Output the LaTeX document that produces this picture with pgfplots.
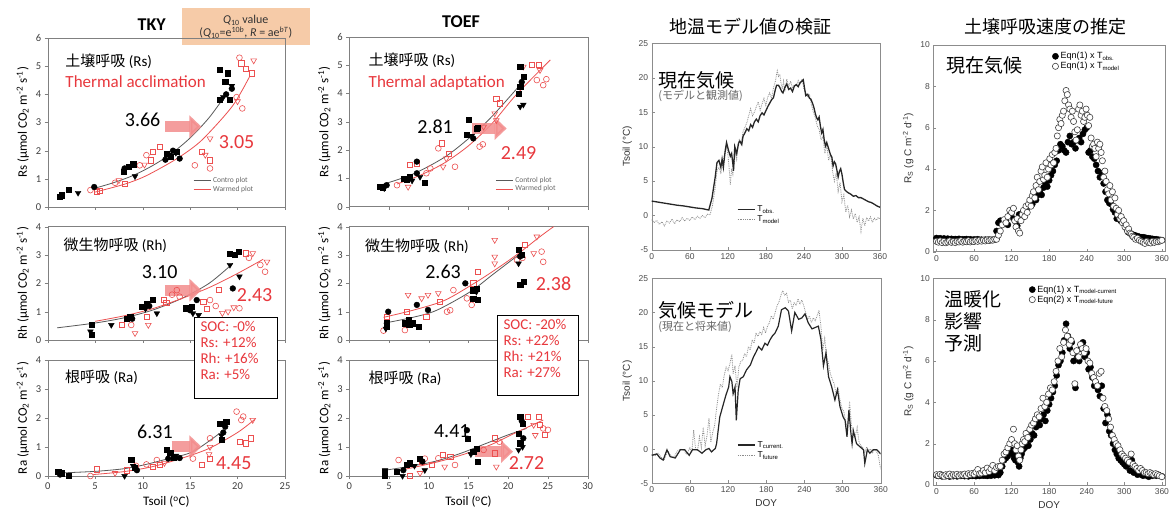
\documentclass[border=0pt]{standalone}
\usepackage{fontspec}
\setmainfont{Carlito}
\newfontfamily\arial{Liberation Sans}
\newfontfamily\cjk{Noto Sans CJK JP}
\usepackage{pgfplots}
\pgfplotsset{compat=1.18}
\usetikzlibrary{arrows.meta}
\definecolor{wred}{RGB}{232,56,61}
\definecolor{mred}{RGB}{236,80,80}
\definecolor{apink}{RGB}{243,140,140}
\definecolor{peach}{RGB}{246,203,168}
\newcommand{\fs}[1]{\fontsize{#1}{#1}\selectfont}
\pgfplotsset{
 every axis/.append style={scale only axis, anchor=south west, /pgf/number format/assume math mode=true},
 lp/.style={width=237.3pt, axis line style={black!50}, tick style={black!50}, tick align=outside,
   major tick length=3pt, xtick pos=bottom, ytick pos=left,
   ticklabel style={font=\fs{10.5}, text=black!75}, label style={font=\fs{13}}, clip=false},
 mp/.style={axis line style={black!45}, tick style={black!45}, tick align=inside, major tick length=3pt,
   xtick pos=bottom, ytick pos=left, xmin=0, xmax=360, xtick={0,60,...,360},
   ticklabel style={font=\arial\fs{8.5}, text=black!70}, label style={font=\arial\fs{10}, text=black!80}},
 rp/.style={mp, xmin=-5, xmax=365, ymin=0, ymax=10, ytick={0,2,...,10}, width=231.7pt, height=206.7pt},
 cs/.style={only marks, mark=square*, mark size=2.6pt, black, forget plot},
 cc/.style={only marks, mark=*, mark size=2.9pt, black, forget plot},
 ct/.style={only marks, mark=triangle*, mark size=3.3pt, mark options={rotate=180}, black, forget plot},
 ws/.style={only marks, mark=square, mark size=2.6pt, mred, mark options={line width=0.6pt}, forget plot},
 wc/.style={only marks, mark=o, mark size=2.9pt, mred, mark options={line width=0.6pt}, forget plot},
 wt/.style={only marks, mark=triangle, mark size=3.3pt, mred, mark options={rotate=180, line width=0.6pt}, forget plot},
 cfit/.style={smooth, black!65, line width=0.8pt},
 wfit/.style={smooth, mred, line width=0.8pt},
 bfill/.style={only marks, mark=*, mark size=3.1pt, mark options={draw=black, fill=black}},
 bopen/.style={only marks, mark=*, mark size=3.1pt, mark options={draw=black!75, fill=white, line width=0.6pt}},
}
\tikzset{arr/.style={line width=11pt, apink, opacity=0.85, -{Triangle[width=22pt,length=12pt]}}}
\begin{document}
\begin{tikzpicture}[x=1pt,y=1pt]
\useasboundingbox (0,0) rectangle (1173,520);
\fill[white] (0,0) rectangle (1173,520);
% Titles
\node[font=\bfseries\fs{18}] at (151.7,495) {TKY};
\node[font=\bfseries\fs{18}] at (461,498) {TOEF};
\fill[peach] (181.7,475) rectangle (310,511.7);
\node[align=center, font=\fs{12}, text=black!80] at (245.8,493.3) {\textit{Q}\textsubscript{10} value\\[1pt](\textit{Q}\textsubscript{10}=e\textsuperscript{10\textit{b}}, \textit{R} = ae\textsuperscript{\textit{bT}})};
\node[font=\cjk\fs{18}] at (750,493) {地温モデル値の検証};
\node[font=\cjk\fs{18}] at (1045,493) {土壌呼吸速度の推定};

% ===== TKY Rs =====
\begin{axis}[lp, at={(47.7pt,313pt)}, height=169pt, xmin=0, xmax=25, ymin=0, ymax=6, ytick={0,...,6}, xtick={0,5,...,25}, xticklabels=\empty,
  ylabel={Rs (µmol CO\textsubscript{2} m\textsuperscript{-2} s\textsuperscript{-1})},
  legend style={at={(0.6,0.2)}, anchor=north west, draw=none, fill=none, font=\fs{7.5}, text=black!60, row sep=-2pt}, legend cell align=left]
\addplot[cfit] coordinates {(4.9,0.66) (7,0.87) (9,1.12) (11,1.46) (13,1.89) (15,2.45) (17,3.17) (18.8,4.0)};
\addlegendentry{Contro plot}
\addplot[wfit] coordinates {(5,0.53) (8,0.8) (10,1.05) (12,1.4) (14,1.8) (16,2.3) (18,3.0) (19.5,3.6) (20.5,4.15) (21.3,4.65)};
\addlegendentry{Warmed plot}
\addplot[ws] coordinates {(5.2,0.53) (5.5,0.58) (8.1,0.83) (10.9,1.66) (11.1,1.96) (11.8,2.14) (16.2,1.96) (17.1,1.66) (20.4,5.1) (20.9,4.9) (21.5,4.75)};
\addplot[wc] coordinates {(4.5,0.6) (7.1,0.86) (9.7,1.48) (10.4,1.84) (15.5,1.48) (17.1,1.37) (19.9,3.9) (20.5,3.5) (20.2,5.3)};
\addplot[wt] coordinates {(7.5,0.95) (10.2,1.5) (16.6,1.85) (17.1,2.43) (21.7,5.2) (20.0,3.75)};
\addplot[cs] coordinates {(1.3,0.36) (1.5,0.42) (2.2,0.62) (8.0,1.25) (8.5,1.43) (9.0,1.52) (12.5,1.9) (13.0,1.78) (13.6,1.95) (18.1,4.87) (19.0,4.75) (18.7,4.45) (18.1,3.8) (19.2,3.8)};
\addplot[cc] coordinates {(4.9,0.71) (8.1,1.37) (12.4,1.68) (13.2,2.0) (13.9,1.72) (18.8,4.0) (19.4,4.2)};
\addplot[ct] coordinates {(3.2,0.5) (9.2,1.09) (12.8,1.85) (13.5,1.92) (19.4,4.3) (18.5,3.9)};
\draw[arr] (axis cs:12.4,2.85) -- (axis cs:16.2,2.85);
\node[anchor=west, font=\cjk\fs{15}] at (axis cs:1.5,5.16) {土壌呼吸 {\normalfont (Rs)}};
\node[anchor=west, font=\fs{17}, text=wred] at (axis cs:1.5,4.45) {Thermal acclimation};
\node[font=\fs{20}] at (axis cs:10.0,3.09) {3.66};
\node[font=\fs{20}, text=wred] at (axis cs:19.9,2.32) {3.05};
\end{axis}

% ===== TKY Rh =====
\begin{axis}[lp, at={(47.7pt,180pt)}, height=113.3pt, xmin=0, xmax=25, ymin=0, ymax=4, ytick={0,...,4}, xtick={0,5,...,25}, xticklabels=\empty,
  ylabel={Rh (µmol CO\textsubscript{2} m\textsuperscript{-2} s\textsuperscript{-1})}]
\addplot[cfit] coordinates {(1,0.43) (5,0.6) (8,0.78) (11,1.05) (14,1.45) (17,2.0) (19.5,2.7)};
\addplot[wfit] coordinates {(5,0.66) (8,0.85) (11,1.1) (14,1.45) (17,1.85) (20,2.35) (22.7,2.85)};
\addplot[ws] coordinates {(7.8,0.53) (10.4,0.82) (12.2,1.41) (12.5,1.3) (16.4,1.35) (18.0,1.76) (20.9,3.06) (16.8,1.1)};
\addplot[wc] coordinates {(8.8,0.53) (13.6,1.76) (13.1,1.6) (13.9,1.53) (17.1,1.41) (17.7,1.2) (20.2,1.12) (22.4,2.65) (22.9,2.41) (21.2,2.9)};
\addplot[wt] coordinates {(9.2,0.24) (10.6,0.53) (19.0,1.0) (21.6,3.06) (23.1,2.76) (18.4,0.95) (19.6,1.15)};
\addplot[cs] coordinates {(4.6,0.53) (4.6,0.18) (8.3,0.76) (8.7,0.82) (9.9,1.18) (10.4,1.29) (11.1,1.41) (14.5,1.12) (15.2,1.18) (19.2,3.06) (19.7,3.0) (20.1,3.12)};
\addplot[cc] coordinates {(8.9,0.75) (10.7,1.2) (15.7,1.41) (19.5,1.82) (15.0,1.05)};
\addplot[ct] coordinates {(4.5,0.3) (6.7,0.53) (11.5,0.94) (15.3,0.94) (15.9,0.88) (19.2,2.65) (20.2,2.24) (10.3,1.1)};
\draw[arr] (axis cs:12.35,1.76) -- (axis cs:16.2,1.76);
\node[anchor=west, font=\cjk\fs{15}] at (axis cs:1.3,3.35) {微生物呼吸 {\normalfont (Rh)}};
\node[font=\fs{20}] at (axis cs:11.8,2.41) {3.10};
\node[font=\fs{20}, text=wred] at (axis cs:21.8,1.59) {2.43};
\end{axis}

% ===== TKY Ra =====
\begin{axis}[lp, at={(47.7pt,44pt)}, height=116pt, xmin=0, xmax=25, ymin=0, ymax=4, ytick={0,...,4}, xtick={0,5,...,25},
  ylabel={Ra (µmol CO\textsubscript{2} m\textsuperscript{-2} s\textsuperscript{-1})}, xlabel={Tsoil (\textsuperscript{o}C)}]
\addplot[cfit] coordinates {(1,0.1) (5,0.16) (8,0.25) (10.1,0.38) (12.5,0.58) (15.3,0.84) (18.1,1.47)};
\addplot[wfit] coordinates {(4.8,0.05) (8,0.15) (11,0.32) (14,0.6) (17,0.95) (20,1.5) (21.8,1.95)};
\addplot[ws] coordinates {(5.2,0.23) (8.3,0.2) (11.1,0.32) (11.8,0.4) (16.2,0.38) (17.1,0.6) (20.2,1.18) (20.9,1.13) (21.4,1.3)};
\addplot[wc] coordinates {(4.5,0.0) (10.4,0.4) (11.5,0.55) (9.3,0.35) (15.3,0.6) (17.1,1.3) (19.9,2.22) (20.6,2.05) (20.4,1.93)};
\addplot[wt] coordinates {(7.1,0.1) (17.1,1.0) (17.0,0.75) (21.6,1.93) (12.3,0.45)};
\addplot[cs] coordinates {(1.1,0.15) (1.5,0.1) (2.2,0.0) (8.8,0.55) (9.2,0.3) (12.5,0.9) (12.9,0.8) (13.3,0.65) (18.1,1.8) (18.8,1.87) (18.3,1.24)};
\addplot[cc] coordinates {(1.3,0.05) (9.4,0.2) (12.7,0.6) (13.9,0.62) (18.5,1.5) (18.7,1.7)};
\addplot[ct] coordinates {(8.1,0.0) (9.0,0.35) (13.5,0.7) (18.3,1.4)};
\draw[arr] (axis cs:13.05,1.01) -- (axis cs:16.2,1.01);
\node[anchor=west, font=\cjk\fs{15}] at (axis cs:1.47,3.4) {根呼吸 {\normalfont (Ra)}};
\node[font=\fs{20}] at (axis cs:11.3,1.53) {6.31};
\node[font=\fs{20}, text=wred] at (axis cs:19.6,0.44) {4.45};
\end{axis}

% ===== TOEF Rs =====
\begin{axis}[lp, at={(349.3pt,313.3pt)}, width=238.4pt, height=170pt, xmin=0, xmax=30, ymin=0, ymax=6, ytick={0,...,6}, xtick={0,5,...,30}, xticklabels=\empty,
  ylabel={Rs (µmol CO\textsubscript{2} m\textsuperscript{-2} s\textsuperscript{-1})},
  legend style={at={(0.6,0.2)}, anchor=north west, draw=none, fill=none, font=\fs{7.5}, text=black!60, row sep=-2pt}, legend cell align=left]
\addplot[cfit] coordinates {(3.9,0.76) (8,1.15) (12,1.75) (15.2,2.45) (18,3.2) (21.5,4.3)};
\addlegendentry{Control plot}
\addplot[wfit] coordinates {(6,0.8) (9,1.12) (12,1.55) (15,2.15) (18,2.95) (21,3.95) (25.3,5.18)};
\addlegendentry{Warmed plot}
\addplot[ws] coordinates {(7.6,1.47) (8.5,1.53) (11.6,2.24) (12.5,1.88) (18.5,3.82) (18.9,3.65) (23.0,5.0) (23.8,5.0)};
\addplot[wc] coordinates {(6.0,0.76) (9.7,1.18) (10.2,1.35) (11.2,2.06) (13.3,1.41) (16.4,2.12) (16.8,2.2) (23.6,4.47) (24.4,4.29) (24.8,4.5)};
\addplot[wt] coordinates {(7.4,0.7) (11.8,1.41) (12.2,1.7) (16.9,2.82) (18.3,3.29) (21.9,4.94) (24.0,4.82) (18.5,3.05)};
\addplot[cs] coordinates {(3.9,0.71) (4.2,0.68) (6.8,1.0) (7.2,0.95) (7.6,1.06) (9.5,0.85) (15.0,3.06) (14.8,2.53) (16.0,2.76) (16.2,2.8) (21.5,4.94) (21.9,4.59) (21.5,4.24) (21.3,4.0)};
\addplot[cc] coordinates {(4.7,0.76) (8.5,1.59) (8.5,1.18) (15.6,2.41) (21.7,4.4)};
\addplot[ct] coordinates {(4.4,0.65) (7.9,0.92) (8.9,1.05) (21.5,3.53) (21.9,3.6) (15.4,2.5)};
\draw[arr] (axis cs:15.4,2.76) -- (axis cs:19.8,2.76);
\node[anchor=west, font=\cjk\fs{15}] at (axis cs:2.0,5.18) {土壌呼吸 {\normalfont (Rs)}};
\node[anchor=west, font=\fs{17}, text=wred] at (axis cs:2.0,4.36) {Thermal adaptation};
\node[font=\fs{20}] at (axis cs:10.8,2.82) {2.81};
\node[font=\fs{20}, text=wred] at (axis cs:21.3,1.88) {2.49};
\end{axis}

% ===== TOEF Rh =====
\begin{axis}[lp, at={(349.3pt,180pt)}, width=238.4pt, height=113.3pt, xmin=0, xmax=30, ymin=0, ymax=4, ytick={0,...,4}, xtick={0,5,...,30}, xticklabels=\empty,
  ylabel={Rh (µmol CO\textsubscript{2} m\textsuperscript{-2} s\textsuperscript{-1})}]
\addplot[cfit] coordinates {(4.3,0.59) (8,0.8) (11,1.05) (15.2,1.7) (18,2.3) (21.5,3.05)};
\addplot[wfit] coordinates {(4.3,0.8) (8,1.05) (12,1.4) (16,2.05) (19,2.6) (21.5,3.1) (24,3.65) (25.7,4.0)};
\addplot[ws] coordinates {(4.7,0.82) (7.2,1.0) (9.7,0.82) (11.4,1.35) (15.6,2.0) (16.2,2.41) (22.1,3.35)};
\addplot[wc] coordinates {(4.3,0.33) (7.0,0.35) (12.3,1.0) (12.7,1.05) (13.1,1.76) (14.8,1.47) (15.4,1.24) (21.1,2.82) (24.2,3.12) (24.4,2.76) (21.8,2.9)};
\addplot[wt] coordinates {(7.4,1.59) (9.1,1.47) (9.9,1.59) (11.2,1.65) (18.3,3.53) (18.3,2.94) (18.3,2.7) (23.6,3.65) (23.2,3.06)};
\addplot[cs] coordinates {(4.7,0.47) (4.7,0.6) (7.0,0.59) (7.6,0.55) (8.0,0.59) (8.7,0.47) (7.5,0.7) (15.6,1.76) (16.0,1.8) (16.2,1.41) (15.6,1.45) (21.3,3.18) (21.5,1.94) (21.9,2.06) (21.7,3.0)};
\addplot[cc] coordinates {(4.9,1.0) (8.5,1.24) (9.9,1.06) (14.6,2.0) (21.5,2.95)};
\addplot[ct] coordinates {(7.2,0.55) (16.0,1.7) (21.3,2.7) (4.6,0.4)};
\node[anchor=west, font=\cjk\fs{15}] at (axis cs:1.56,3.3) {微生物呼吸 {\normalfont (Rh)}};
\node[font=\fs{20}] at (axis cs:11.8,2.41) {2.63};
\node[font=\fs{20}, text=wred] at (axis cs:25.7,2.0) {2.38};
\end{axis}

% ===== TOEF Ra =====
\begin{axis}[lp, at={(349.3pt,44pt)}, width=238.4pt, height=116pt, xmin=0, xmax=30, ymin=0, ymax=4, ytick={0,...,4}, xtick={0,5,...,30},
  ylabel={Ra (µmol CO\textsubscript{2} m\textsuperscript{-2} s\textsuperscript{-1})}, xlabel={Tsoil (\textsuperscript{o}C)}]
\addplot[cfit] coordinates {(4.5,0.2) (8,0.35) (11,0.52) (14,0.78) (17,1.1) (20,1.42) (22.3,1.64)};
\addplot[wfit] coordinates {(6.4,0.2) (9,0.35) (12,0.55) (15,0.8) (18,1.1) (21,1.5) (24.4,1.93)};
\addplot[ws] coordinates {(7.6,0.0) (9.1,0.5) (10.4,0.38) (11.8,0.72) (12.7,0.67) (18.3,1.3) (18.3,0.78) (22.5,2.05) (23.8,2.05) (24.0,1.76) (24.6,1.41)};
\addplot[wc] coordinates {(6.2,0.55) (9.5,0.6) (11.2,0.61) (13.3,0.38) (16.9,0.9) (18.9,1.18) (25.0,1.59) (24.4,1.64)};
\addplot[wt] coordinates {(8.9,0.1) (12.0,0.32) (18.5,0.32) (23.2,1.76) (23.4,1.41)};
\addplot[cs] coordinates {(4.5,0.0) (4.5,0.15) (6.0,0.15) (7.2,0.38) (7.6,0.44) (8.9,0.6) (14.9,1.3) (15.6,0.84) (16.0,0.95) (16.2,0.5) (21.5,2.05) (21.3,1.47) (21.5,1.13) (21.8,1.8)};
\addplot[cc] coordinates {(6.8,0.2) (9.2,0.5) (14.8,1.58) (21.7,1.9) (21.9,1.3)};
\addplot[ct] coordinates {(4.5,0.2) (6.7,0.0) (9.5,0.2) (8.2,0.35) (15.3,0.75) (21.3,0.9) (21.8,1.0)};
\draw[arr] (axis cs:15.8,0.84) -- (axis cs:20.6,0.84);
\node[anchor=west, font=\cjk\fs{15}] at (axis cs:2.0,3.37) {根呼吸 {\normalfont (Ra)}};
\node[font=\fs{20}] at (axis cs:12.9,1.53) {4.41};
\node[font=\fs{20}, text=wred] at (axis cs:22.3,0.44) {2.72};
\end{axis}

% Boxes
\draw[line width=0.8pt, fill=white] (194,122) rectangle (277,203);
\node[anchor=north west, align=left, text=wred, font=\fs{15}] at (197,202) {SOC: -0\%\\[1pt]Rs: +12\%\\[1pt]Rh: +16\%\\[1pt]Ra: +5\%};
\draw[line width=0.8pt, fill=white] (497,125) rectangle (578,205);
\node[anchor=north west, align=left, text=wred, font=\fs{15}] at (500,204) {SOC: -20\%\\[1pt]Rs: +22\%\\[1pt]Rh: +21\%\\[1pt]Ra: +27\%};

% ===== Middle top =====
\begin{axis}[mp, at={(651.7pt,270pt)}, width=228.3pt, height=206.7pt, ymin=-5, ymax=25, ytick={-5,0,...,25},
  ylabel={Tsoil (°C)}, reverse legend,
  legend style={at={(0.36,0.235)}, anchor=north west, draw=none, fill=none, font=\arial\fs{8.5}, row sep=-1pt}, legend cell align=left]
\addplot[densely dotted, black!45, line width=0.8pt] coordinates {(0,-0.6) (4,-1.0) (8,-0.7) (12,-1.3) (16,-0.9) (20,-1.5) (24,-0.8) (28,-1.1) (32,-0.5) (36,-1.2) (40,-0.6) (44,-0.9) (48,-0.3) (52,-0.8) (56,-0.4) (60,-0.7) (64,-0.2) (68,-0.6) (72,-0.1) (76,-0.4) (80,0.0) (84,-0.3) (88,0.2) (92,0.1) (96,1.5) (100,4.0) (103,6.5) (106,7.0) (109,6.2) (112,7.5) (115,8.8) (118,10.0) (120,9.0) (122,7.0) (124,4.5) (126,6.8) (128,6.0) (130,7.5) (132,9.2) (134,8.2) (136,10.3) (138,11.0) (141,10.5) (144,12.2) (147,12.8) (150,13.5) (153,14.5) (156,15.5) (159,14.5) (162,15.0) (165,15.8) (168,16.5) (171,15.3) (174,16.2) (177,17.0) (180,16.0) (183,17.2) (186,17.8) (189,17.0) (192,18.5) (195,19.5) (198,21.0) (200,20.2) (202,20.5) (204,19.2) (206,18.4) (208,19.5) (210,18.0) (213,19.8) (216,18.7) (219,19.5) (222,18.5) (225,19.0) (228,18.8) (231,19.6) (234,19.0) (237,19.8) (240,18.4) (243,17.8) (246,17.2) (249,17.5) (252,16.0) (255,15.0) (258,14.2) (261,13.0) (264,12.5) (267,11.0) (270,11.5) (273,9.0) (276,10.2) (279,8.0) (282,9.0) (285,6.5) (288,5.0) (291,6.2) (294,3.5) (297,4.8) (300,2.0) (303,3.0) (306,0.5) (309,1.5) (312,-0.2) (315,0.8) (318,-0.5) (321,0.3) (324,-1.0) (327,-0.2) (330,-2.3) (333,-0.4) (336,-1.5) (339,-0.3) (342,-0.8) (345,-0.2) (348,-1.0) (351,-0.4) (354,-0.7) (357,-0.3) (360,-0.5)};
\addlegendentry{T\textsubscript{model}}
\addplot[black!85, line width=1.3pt] coordinates {(0,2.1) (10,1.95) (20,1.8) (30,1.65) (40,1.5) (50,1.4) (60,1.25) (70,1.1) (80,1.0) (90,0.8) (95,2.5) (100,5.5) (103,7.7) (106,8.0) (109,7.0) (111,8.2) (113,7.0) (116,9.5) (118,10.6) (121,9.5) (124,8.6) (126,9.0) (128,7.5) (129,6.5) (131,10.0) (134,9.0) (137,10.5) (139,10.8) (142,10.3) (144,11.5) (147,12.0) (150,12.6) (153,12.3) (156,13.2) (159,12.8) (162,13.6) (165,14.0) (168,13.6) (171,14.5) (174,14.9) (177,14.6) (180,15.2) (183,15.8) (186,16.3) (189,16.8) (192,17.1) (195,18.3) (197,18.9) (200,18.9) (202,18.6) (205,18.0) (207,17.8) (210,18.6) (213,19.1) (216,18.3) (219,18.5) (222,18.0) (225,18.8) (228,19.0) (231,18.7) (234,19.3) (237,19.5) (239,19.7) (241,18.5) (243,17.4) (246,17.6) (249,17.0) (251,16.9) (254,16.2) (256,15.6) (258,14.8) (260,14.2) (262,13.9) (264,14.3) (266,13.0) (268,12.0) (270,12.5) (272,11.0) (274,10.1) (276,10.6) (278,10.0) (280,9.4) (282,8.8) (284,8.5) (286,7.2) (288,7.8) (290,7.5) (292,6.6) (294,5.6) (296,6.4) (298,6.8) (300,6.0) (302,4.8) (304,3.8) (307,3.5) (310,3.3) (314,3.1) (318,2.8) (322,2.9) (326,2.6) (330,2.6) (334,2.4) (338,2.2) (342,2.0) (346,1.9) (350,1.7) (355,1.4) (360,1.2)};
\addlegendentry{T\textsubscript{obs.}}
\node[anchor=west, font=\cjk\fs{19}] at (axis cs:5,19.6) {現在気候};
\node[anchor=west, font=\cjk\fs{11}, text=black!60] at (axis cs:5,17.3) {(モデルと観測値)};
\end{axis}

% ===== Middle bottom =====
\begin{axis}[mp, at={(651.7pt,36.7pt)}, width=229pt, height=205pt, ymin=-5, ymax=25, ytick={-5,0,...,25},
  ylabel={Tsoil (°C)}, xlabel={DOY}, reverse legend,
  legend style={at={(0.36,0.225)}, anchor=north west, draw=none, fill=none, font=\arial\fs{8.5}, row sep=-1pt}, legend cell align=left]
\addplot[densely dotted, black!45, line width=0.8pt] coordinates {(0,-0.8) (5,-1.0) (10,-0.6) (15,-1.2) (20,-1.5) (25,-0.2) (30,-1.0) (35,-1.2) (40,-0.3) (45,0.0) (50,-0.1) (55,-0.8) (60,0.2) (63,-0.5) (66,2.8) (69,0.0) (72,-0.2) (75,1.8) (78,0.2) (81,3.2) (84,0.5) (87,2.0) (90,4.5) (93,1.0) (96,2.5) (99,3.5) (102,6.0) (105,8.0) (108,9.5) (111,9.0) (114,10.8) (117,12.0) (120,11.5) (123,12.5) (126,13.9) (128,11.0) (131,12.2) (134,9.0) (137,12.0) (140,12.8) (143,13.0) (146,14.0) (149,13.5) (152,15.0) (155,14.5) (158,16.0) (161,15.5) (164,17.0) (167,16.5) (170,17.2) (173,16.8) (176,17.8) (179,17.0) (182,18.0) (185,18.5) (188,19.5) (191,19.0) (194,20.0) (197,21.0) (200,21.5) (203,22.5) (206,23.2) (209,22.5) (212,22.8) (215,21.5) (218,21.8) (221,20.5) (224,21.5) (227,21.0) (230,22.0) (233,21.2) (236,21.8) (239,21.0) (242,20.0) (245,19.0) (248,19.5) (251,18.5) (254,19.2) (257,18.8) (260,19.5) (263,20.3) (266,18.0) (269,14.5) (272,16.2) (275,13.5) (278,12.5) (281,11.0) (284,10.2) (287,9.5) (290,8.0) (293,9.0) (296,7.2) (299,6.0) (302,5.5) (305,4.0) (308,3.0) (311,7.0) (314,3.5) (317,2.5) (320,1.8) (323,3.2) (326,1.0) (329,0.5) (332,0.2) (335,-0.5) (338,0.3) (341,-0.2) (344,0.0) (347,-0.6) (350,0.0) (353,-0.3) (356,-0.8) (360,-3.0)};
\addlegendentry{T\textsubscript{future}}
\addplot[black!85, line width=1.2pt] coordinates {(0,-0.9) (8,-0.7) (13,-1.3) (18,-1.6) (24,-0.1) (29,-1.1) (37,-1.3) (45,-0.1) (52,-0.1) (59,-0.9) (64,-0.1) (72,-0.1) (79,-0.6) (85,-0.1) (90,0.1) (94,-0.4) (100,0.1) (102,0.8) (107,4.7) (113,6.7) (117,8.0) (121,9.1) (123,10.6) (126,9.9) (128,8.1) (131,9.1) (133,4.2) (136,8.6) (139,10.3) (144,10.6) (149,11.6) (155,12.3) (160,13.5) (164,14.2) (168,15.0) (173,14.5) (178,15.5) (182,15.2) (186,16.0) (190,16.6) (194,17.0) (199,18.0) (204,20.4) (210,20.7) (215,20.2) (220,17.3) (225,20.0) (231,19.0) (236,19.2) (241,19.8) (246,18.5) (252,17.6) (257,17.8) (262,18.0) (266,16.1) (270,12.2) (274,14.1) (278,10.6) (283,9.1) (288,7.2) (292,8.7) (296,6.2) (301,4.7) (304,4.2) (307,1.8) (310,5.7) (313,2.5) (315,0.8) (317,2.7) (322,0.8) (328,0.3) (333,-0.1) (335,-2.1) (339,-0.1) (343,-0.6) (348,-0.1) (354,-0.1) (360,-0.7)};
\addlegendentry{T\textsubscript{current.}}
\node[anchor=west, font=\cjk\fs{19}] at (axis cs:5,20.3) {気候モデル};
\node[anchor=west, font=\cjk\fs{11}, text=black!60] at (axis cs:5,17.9) {(現在と将来値)};
\end{axis}

% ===== Right top =====
\begin{axis}[rp, at={(933.3pt,268.3pt)}, ylabel={R\textsubscript{S} (g C m\textsuperscript{-2} d\textsuperscript{-1})},
  legend style={at={(0.5,0.985)}, anchor=north west, draw=none, fill=none, font=\arial\fs{9}, row sep=-2pt}, legend cell align=left]
\addplot[bfill] coordinates {(0,0.66) (3,0.62) (6,0.65) (9,0.6) (12,0.64) (15,0.61) (18,0.63) (21,0.6) (24,0.62) (27,0.59) (30,0.61) (33,0.6) (36,0.62) (39,0.58) (42,0.6) (45,0.59) (48,0.61) (51,0.58) (54,0.6) (57,0.57) (60,0.59) (63,0.58) (66,0.6) (69,0.57) (72,0.58) (75,0.56) (78,0.58) (81,0.57) (84,0.58) (87,0.56) (90,0.57) (93,0.58) (96,1.0) (99,1.4) (102,1.5) (105,1.45) (108,1.4) (111,1.5) (114,1.3) (117,1.75) (120,1.9) (123,1.6) (126,1.5) (129,1.25) (132,1.8) (135,1.65) (138,1.9) (141,1.85) (144,2.1) (147,2.2) (150,2.4) (153,2.3) (156,2.6) (159,2.5) (162,2.75) (165,2.9) (168,2.75) (171,3.1) (174,3.3) (177,3.15) (180,3.45) (183,3.7) (186,3.9) (189,4.2) (192,4.4) (195,4.9) (198,5.2) (201,5.1) (204,4.9) (207,4.8) (210,5.3) (213,5.6) (216,5.2) (219,5.3) (222,5.0) (225,5.4) (228,5.5) (231,5.3) (234,5.7) (237,5.9) (240,6.0) (243,4.8) (246,4.9) (249,4.6) (252,4.5) (255,4.2) (258,3.9) (261,3.6) (264,3.8) (267,3.3) (270,2.9) (273,2.5) (276,2.35) (279,2.3) (282,2.05) (285,1.9) (288,1.6) (291,1.75) (294,1.5) (297,1.55) (300,1.35) (303,1.15) (306,0.95) (309,0.9) (312,0.85) (315,0.8) (318,0.78) (321,0.75) (324,0.72) (327,0.7) (330,0.7) (333,0.68) (336,0.66) (339,0.65) (342,0.63) (345,0.62) (348,0.6) (351,0.6) (354,0.58) (357,0.57) (360,0.56)};
\addlegendentry{Eqn(1) x T\textsubscript{obs.}}
\addplot[bopen] coordinates {(0,0.5) (3,0.46) (6,0.52) (9,0.44) (12,0.5) (15,0.43) (18,0.47) (21,0.52) (24,0.45) (27,0.49) (30,0.44) (33,0.5) (36,0.47) (39,0.53) (42,0.46) (45,0.5) (48,0.48) (51,0.53) (54,0.47) (57,0.51) (60,0.49) (63,0.54) (66,0.5) (69,0.55) (72,0.51) (75,0.56) (78,0.52) (81,0.57) (84,0.54) (87,0.58) (90,0.56) (93,0.6) (96,0.6) (99,0.8) (102,1.0) (105,1.3) (108,1.55) (111,1.4) (114,1.7) (117,2.0) (120,1.9) (123,2.1) (125,1.5) (127,1.2) (129,1.6) (131,1.0) (133,0.9) (135,1.5) (137,1.8) (139,2.0) (141,1.7) (143,2.2) (145,1.9) (147,2.3) (149,2.5) (151,2.2) (153,2.7) (155,2.9) (157,2.6) (159,3.2) (161,3.6) (163,3.0) (165,3.4) (167,3.9) (169,4.1) (171,3.5) (173,3.7) (175,4.3) (177,3.6) (179,4.0) (181,4.5) (183,4.2) (185,4.7) (187,4.3) (189,4.8) (191,5.0) (193,5.6) (195,6.0) (197,6.4) (199,6.2) (201,6.6) (203,6.8) (205,7.3) (207,7.8) (209,7.6) (211,7.1) (213,6.9) (215,6.5) (217,6.8) (219,6.3) (221,5.8) (223,5.4) (225,5.9) (227,6.9) (229,7.1) (231,6.6) (233,6.8) (235,6.3) (237,6.5) (239,6.9) (241,6.6) (243,6.1) (245,6.5) (247,5.5) (249,5.1) (251,5.2) (253,5.0) (255,4.6) (257,5.3) (259,5.0) (261,5.2) (263,4.8) (265,4.4) (267,3.6) (269,3.9) (271,3.4) (273,3.0) (275,2.8) (277,3.2) (279,2.5) (281,2.9) (283,2.2) (285,2.6) (287,2.1) (289,1.8) (291,2.0) (293,1.6) (295,1.7) (297,1.4) (299,1.5) (301,1.2) (303,1.3) (305,1.0) (307,1.1) (309,0.9) (311,0.85) (313,0.75) (315,0.7) (318,0.6) (321,0.65) (324,0.55) (327,0.5) (330,0.45) (333,0.4) (336,0.5) (339,0.45) (342,0.42) (345,0.5) (348,0.45) (351,0.5) (354,0.48) (357,0.52) (360,0.55)};
\addlegendentry{Eqn(1) x T\textsubscript{model}}
\node[anchor=west, font=\cjk\fs{19}] at (axis cs:10,9.0) {現在気候};
\end{axis}

% ===== Right bottom =====
\begin{axis}[rp, at={(933.3pt,35pt)}, ylabel={R\textsubscript{S} (g C m\textsuperscript{-2} d\textsuperscript{-1})}, xlabel={DOY},
  legend style={at={(0.4,0.985)}, anchor=north west, draw=none, fill=none, font=\arial\fs{9}, row sep=-2pt}, legend cell align=left]
\addplot[bfill] coordinates {(0,0.47) (3,0.44) (6,0.5) (9,0.42) (12,0.46) (15,0.43) (18,0.48) (21,0.41) (24,0.45) (27,0.43) (30,0.47) (33,0.42) (36,0.46) (39,0.44) (42,0.48) (45,0.43) (48,0.45) (51,0.42) (54,0.47) (57,0.44) (60,0.46) (63,0.43) (66,0.47) (69,0.44) (72,0.48) (75,0.45) (78,0.47) (81,0.44) (84,0.48) (87,0.45) (90,0.5) (93,0.47) (96,0.5) (99,0.48) (102,0.6) (105,0.9) (108,1.2) (111,1.3) (114,1.4) (117,1.6) (120,1.7) (122,1.5) (124,1.3) (126,1.2) (128,1.4) (130,1.1) (132,0.9) (134,1.3) (136,1.5) (138,1.7) (141,1.8) (144,2.0) (147,1.9) (150,2.2) (153,2.5) (156,2.4) (159,2.8) (162,3.0) (165,2.9) (168,3.2) (171,3.4) (174,3.1) (177,3.6) (180,3.9) (183,4.2) (186,4.5) (189,4.8) (192,5.3) (195,5.8) (198,6.0) (201,6.4) (204,7.0) (207,7.8) (210,7.2) (213,6.6) (216,6.9) (219,6.0) (222,4.7) (225,6.2) (228,6.0) (231,6.6) (234,6.9) (237,6.2) (240,6.4) (243,5.6) (246,5.7) (249,5.2) (252,4.8) (255,4.9) (258,4.6) (261,4.3) (264,4.8) (267,3.7) (270,3.0) (273,3.4) (276,2.6) (279,2.4) (282,2.0) (285,1.7) (288,1.5) (291,1.3) (294,1.2) (297,1.1) (300,1.0) (303,0.9) (306,1.0) (309,0.7) (312,1.2) (315,0.6) (318,0.7) (321,0.5) (324,0.55) (327,0.5) (330,0.45) (333,0.5) (336,0.45) (339,0.4) (342,0.5) (345,0.45) (348,0.5) (351,0.45) (354,0.5) (357,0.45) (360,0.42)};
\addlegendentry{Eqn(1) x T\textsubscript{model-current}}
\addplot[bopen] coordinates {(0,0.5) (3,0.45) (6,0.52) (9,0.47) (12,0.42) (15,0.5) (18,0.46) (21,0.53) (24,0.44) (27,0.5) (30,0.47) (33,0.52) (36,0.45) (39,0.5) (42,0.48) (45,0.53) (48,0.46) (51,0.55) (54,0.5) (57,0.56) (60,0.52) (63,0.62) (66,0.75) (69,0.55) (72,0.58) (75,0.7) (78,0.6) (81,0.82) (84,0.65) (87,0.78) (90,0.95) (93,0.7) (96,0.85) (99,0.9) (102,0.9) (105,1.2) (108,1.5) (111,1.6) (114,1.8) (117,2.0) (120,2.2) (123,2.7) (125,2.0) (127,1.7) (129,1.9) (131,1.4) (133,1.2) (135,1.7) (137,2.0) (139,2.2) (141,2.1) (143,2.5) (146,2.3) (149,2.7) (152,2.9) (155,3.0) (158,3.2) (161,3.4) (164,3.3) (167,3.7) (170,4.2) (173,3.8) (176,4.0) (179,4.4) (182,4.7) (185,4.6) (188,5.0) (191,5.5) (194,6.0) (197,6.6) (200,6.2) (203,6.9) (206,7.5) (209,7.2) (212,6.8) (215,7.0) (218,6.4) (221,4.9) (224,6.5) (227,6.2) (230,6.8) (233,6.6) (236,6.4) (239,6.6) (242,6.0) (245,5.9) (248,5.4) (251,5.2) (254,5.0) (257,4.8) (260,5.4) (263,5.5) (266,4.2) (269,3.8) (272,3.6) (275,3.2) (278,2.8) (281,2.4) (284,2.2) (287,2.0) (290,1.9) (293,1.7) (296,1.5) (299,1.4) (302,1.3) (305,1.2) (308,1.1) (311,1.5) (314,1.0) (317,0.9) (320,0.8) (323,0.7) (326,0.8) (329,0.7) (332,0.6) (335,0.6) (338,0.55) (341,0.6) (344,0.55) (347,0.5) (350,0.55) (353,0.5) (356,0.45) (360,0.4)};
\addlegendentry{Eqn(2) x T\textsubscript{model-future}}
\node[anchor=north west, align=left, font=\cjk\fs{19}, inner sep=0pt] at (axis cs:12,9.4) {温暖化\\[3pt]影響\\[3pt]予測};
\end{axis}
\end{tikzpicture}
\end{document}
